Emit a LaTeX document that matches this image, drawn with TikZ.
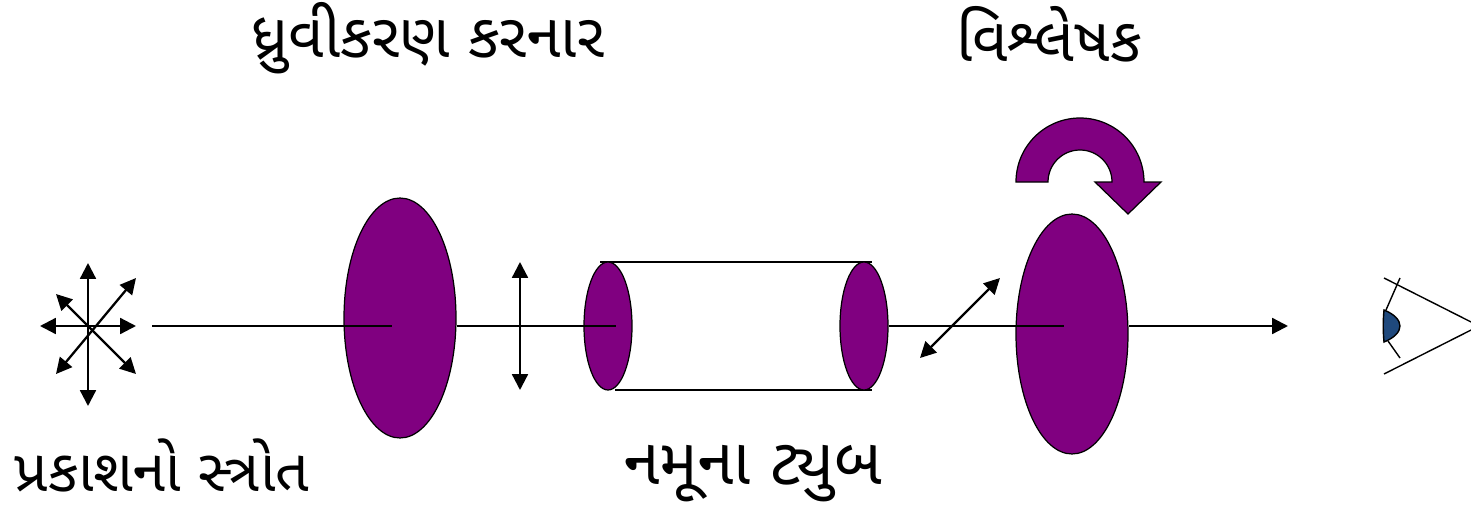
\documentclass[tikz,border=0pt]{standalone}
\usepackage{fontspec}
\newfontfamily\gujfont[Script=Gujarati]{Noto Sans Gujarati UI}
\usetikzlibrary{arrows.meta, positioning, shapes.geometric}
\definecolor{lens}{HTML}{800080}
\definecolor{cornea}{HTML}{1F497D}
\begin{document}
\begin{tikzpicture}[x=0.02cm, y=-0.02cm,
  every node/.style={font=\gujfont\fontsize{35}{40}\selectfont, inner sep=0pt},
  l/.style={draw, ellipse, line width=0.7pt, fill=lens},
  big/.style={l, minimum width=2.24cm, minimum height=4.8cm},
  small/.style={l, minimum width=0.96cm, minimum height=2.56cm},
  r/.style={line width=0.8pt},
  t/.style={line width=1.3pt},
  a/.style={t, -{Triangle[length=9pt, width=9pt]}},
  aa/.style={t, {Triangle[length=9pt, width=9pt]}-{Triangle[length=9pt, width=9pt]}}]
\useasboundingbox (0,0) rectangle (1471,507);
% tube walls go under the end caps
\coordinate (tl) at (600,262);
\coordinate (tr) at (872,262);
\coordinate (bl) at (615,390);
\coordinate (br) at (872,390);
\draw[r] (tl) -- (tr);
\draw[r] (bl) -- (br);
\node[big] (pol) at (400,318) {};
\node[big] (ana) at (1072,334) {};
\node[small] (capl) at (608,326) {};
\node[small] (capr) at (864,326) {};
% beam
\coordinate (src) at (88,326);
\coordinate (start) at (152,326);
\coordinate (polc) at (392,326);
\coordinate (capc) at (616,326);
\coordinate (anac) at (1064,326);
\coordinate (end) at (1288,326);
\draw[r] (start) -- (polc);
\draw[r] (polc -| pol.east) -- (capc);
\draw[r] (capr.east) -- (anac);
\draw[a] (anac -| ana.east) -- (end);
% source
\coordinate (sn) at (88,263);
\coordinate (ss) at (88,406);
\coordinate (sw) at (40,326);
\coordinate (se) at (136,326);
\coordinate (sne) at (136,278);
\coordinate (ssw) at (56,374);
\coordinate (snw) at (56,294);
\coordinate (sse) at (136,374);
\draw[aa] (sn) -- (ss);
\draw[aa] (sw) -- (se);
\draw[aa] (sne) -- (ssw);
\draw[aa] (snw) -- (sse);
% polarised light
\coordinate (va) at (520,262);
\coordinate (vb) at (520,390);
\coordinate (da) at (1000,278);
\coordinate (db) at (920,358);
\draw[aa] (va) -- (vb);
\draw[aa] (da) -- (db);
% rotation
\draw[line width=0.7pt, fill=lens] (1016,182) arc[start angle=180, end angle=360, radius=64]
  -- (1161,182) -- (1128,214) -- (1095,182) -- (1112,182)
  arc[start angle=360, end angle=180, radius=32] -- cycle;
% eye
\coordinate (apex) at (1479,326);
\coordinate (ltop) at (1384,278);
\coordinate (lbot) at (1384,374);
\draw[r] (ltop) -- (apex) -- (lbot);
\draw[r] (1400,278) -- (1386,310);
\draw[r] (1388,341) -- (1400,358);
\draw[line width=0.8pt, fill=cornea] (1384,310) .. controls (1394,314) and (1400,320) .. (1400,326)
  .. controls (1400,332) and (1394,338) .. (1384,342) .. controls (1383,332) and (1383,320) .. (1384,310) -- cycle;
% labels
\node (tpol) at (428,38) {ધ્રુવીકરણ કરનાર};
\node (tana) at (1049,34) {વિશ્લેષક};
\node[font=\gujfont\fontsize{33.5}{38}\selectfont] (tsrc) at (162,465) {પ્રકાશનો સ્ત્રોત};
\node[font=\gujfont\fontsize{37}{42}\selectfont] (ttube) at (753,474) {નમૂના ટ્યુબ};
\end{tikzpicture}
\end{document}
